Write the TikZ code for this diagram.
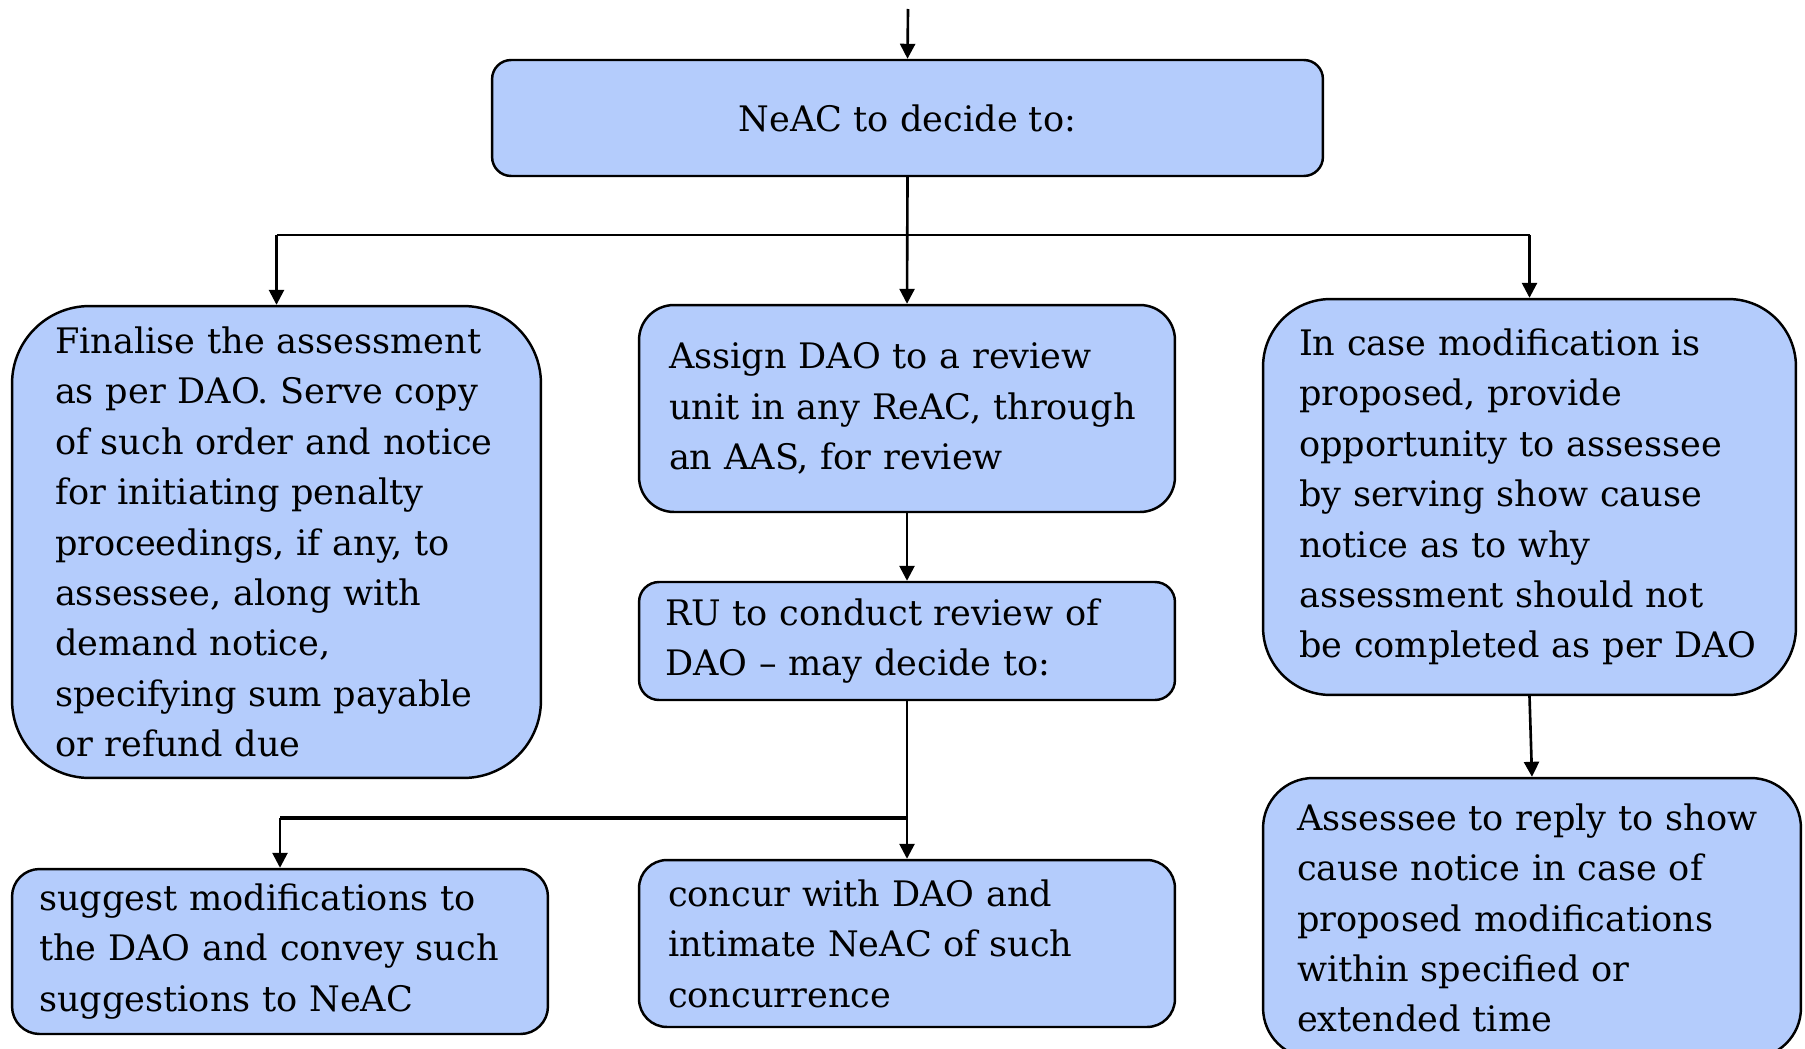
\documentclass[tikz,border=0pt]{standalone}
\usepackage{fontspec}
\setmainfont{DejaVu Serif}
\usetikzlibrary{arrows.meta}
\definecolor{boxblue}{RGB}{180,204,252}
\tikzset{
    >={Triangle[length=0.3cm, width=0.3cm]},
    box/.style={draw, line width=1.4pt, fill=boxblue, align=left, inner ysep=0pt,
        font=\fontsize{20}{28.7}\selectfont},
    flow/.style={->, line width=1.5pt},
    bus/.style={line width=1.5pt},
    busthick/.style={line width=2.6pt},
}

\begin{document}
\begin{tikzpicture}[x=0.02cm, y=-0.02cm]
    \useasboundingbox (0,0) rectangle (1805,1048);
    \node[box, align=center, rounded corners=0.38cm, minimum width=16.62cm, minimum height=2.32cm] (neac) at (907.5,118) {NeAC to decide to:};
    \node[box, rounded corners=1.55cm, inner xsep=0.86cm, text width=8.86cm, minimum height=9.44cm] (final) at (276.5,542)
        {Finalise the assessment\\as per DAO. Serve copy\\of such order and notice\\for initiating penalty\\proceedings, if any, to\\assessee, along with\\demand notice,\\specifying sum payable\\or refund due};
    \node[box, rounded corners=0.7cm, inner xsep=0.6cm, text width=9.52cm, minimum height=4.14cm] (assign) at (907,408.5)
        {Assign DAO to a review\\unit in any ReAC, through\\an AAS, for review};
    \node[box, rounded corners=0.4cm, inner xsep=0.52cm, text width=9.68cm, minimum height=2.36cm] (review) at (907,641)
        {RU to conduct review of\\DAO -- may decide to:};
    \node[box, rounded corners=1.35cm, inner xsep=0.72cm, text width=9.22cm, minimum height=7.92cm] (modify) at (1529.5,497)
        {In case modification is\\proposed, provide\\opportunity to assessee\\by serving show cause\\notice as to why\\assessment should not\\be completed as per DAO};
    \node[box, rounded corners=1.0cm, inner xsep=0.68cm, text width=9.4cm, minimum height=5.6cm] (reply) at (1532,918)
        {Assessee to reply to show\\cause notice in case of\\proposed modifications\\within specified or\\extended time};
    \node[box, rounded corners=0.55cm, inner xsep=0.54cm, text width=9.64cm, minimum height=3.3cm] (suggest) at (280,951.5)
        {suggest modifications to\\the DAO and convey such\\suggestions to NeAC};
    \node[box, rounded corners=0.56cm, inner xsep=0.58cm, text width=9.56cm, minimum height=3.34cm] (concur) at (907,943.5)
        {concur with DAO and\\intimate NeAC of such\\concurrence};
    % connectors
    \coordinate (in) at (908,9);
    \coordinate (bus) at (908,235);
    \coordinate (split) at (907,818);
    \draw[flow] (in) -- (neac.north);
    \draw[flow] (neac.south) -- (assign.north);
    \draw[bus] (final.north |- bus) -- (modify.north |- bus);
    \draw[flow] (final.north |- bus) -- (final.north);
    \draw[flow] (modify.north |- bus) -- (modify.north);
    \draw[flow] (assign.south) -- (review.north);
    \draw[flow] (review.south) -- (concur.north);
    \draw[busthick] (split) -- (suggest.north |- split);
    \draw[flow] (suggest.north |- split) -- (suggest.north);
    \draw[flow] (modify.south) -- (reply.north);
\end{tikzpicture}
\end{document}
